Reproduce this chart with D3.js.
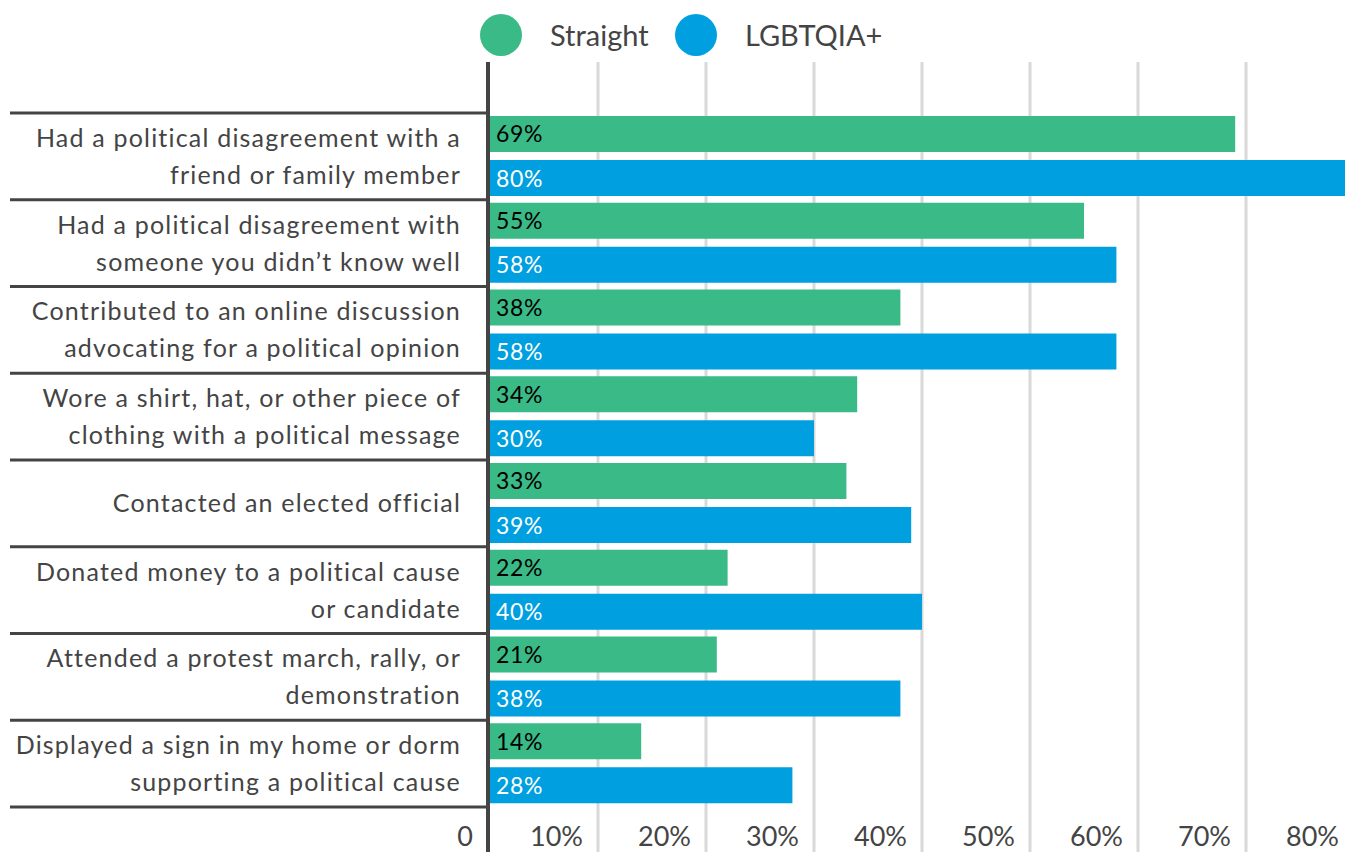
<!DOCTYPE html>
<html>
<head>
<meta charset="utf-8">
<script src="https://cdn.jsdelivr.net/npm/d3@7"></script>
<style>
  body { margin: 0; background: #fff; }
  text { font-family: Lato, "Open Sans", sans-serif; }
</style>
</head>
<body>
<div id="container"></div>
<script>
var categories = [
  ['Had a political disagreement with a', 'friend or family member'],
  ['Had a political disagreement with', 'someone you didn\u2019t know well'],
  ['Contributed to an online discussion', 'advocating for a political opinion'],
  ['Wore a shirt, hat, or other piece of', 'clothing with a political message'],
  ['Contacted an elected official'],
  ['Donated money to a political cause', 'or candidate'],
  ['Attended a protest march, rally, or', 'demonstration'],
  ['Displayed a sign in my home or dorm', 'supporting a political cause']
];
var seriesNames = ['Straight', 'LGBTQIA+'];
var straight = [69, 55, 38, 34, 33, 22, 21, 14];
var lgbtqia = [80, 58, 58, 30, 39, 40, 38, 28];
var tickValues = [0, 10, 20, 30, 40, 50, 60, 70, 80];
var tickLabels = ['0', '10%', '20%', '30%', '40%', '50%', '60%', '70%', '80%'];

var colors = { 'Straight': '#39ba87', 'LGBTQIA+': '#009fe0' };
var labelColors = { 'Straight': '#000', 'LGBTQIA+': '#fff' };

var svgWidth = 1345,
    svgHeight = 852,
    svg = d3.select('#container').append('svg').attr('width', svgWidth).attr('height', svgHeight);

var x = d3.scaleLinear().domain([0, 80]).range([490, 1354]);
var keys = categories.map(function(d, i) { return i; });
var y = d3.scaleBand().domain(keys).range([113, 807]);
var ySub = d3.scaleBand().domain(seriesNames).range([3, 83]).paddingInner(0.182);

var rows = keys.map(function(i) {
  return { i: i, label: categories[i], values: [
    { key: 'Straight', value: straight[i] },
    { key: 'LGBTQIA+', value: lgbtqia[i] }
  ]};
});

// grid lines
svg.append('g').selectAll('line')
  .data(tickValues.slice(1))
  .enter().append('line')
    .attr('x1', function(d) { return x(d); })
    .attr('x2', function(d) { return x(d); })
    .attr('y1', 62)
    .attr('y2', svgHeight)
    .attr('stroke', '#d9d9d9')
    .attr('stroke-width', 3);

// bars
var row = svg.append('g').selectAll('g')
  .data(rows)
  .enter().append('g')
    .attr('transform', function(d) { return 'translate(0,' + y(d.i) + ')'; });

row.selectAll('rect')
  .data(function(d) { return d.values; })
  .enter().append('rect')
    .attr('x', x(0))
    .attr('y', function(d) { return ySub(d.key); })
    .attr('width', function(d) { return x(d.value) - x(0); })
    .attr('height', ySub.bandwidth())
    .attr('fill', function(d) { return colors[d.key]; });

row.selectAll('text.val')
  .data(function(d) { return d.values; })
  .enter().append('text')
    .attr('class', 'val')
    .attr('x', x(0) + 6)
    .attr('y', function(d) { return ySub(d.key) + ySub.bandwidth() / 2 + 8.5; })
    .attr('fill', function(d) { return labelColors[d.key]; })
    .style('font-size', '23px')
    .style('letter-spacing', '0.6px')
    .text(function(d) { return d.value + '%'; });

// category labels
row.append('text')
  .attr('text-anchor', 'end')
  .attr('fill', '#444')
  .style('font-size', '25px')
  .style('letter-spacing', '1.2px')
  .each(function(d) {
    var t = d3.select(this);
    var n = d.label.length;
    d.label.forEach(function(line, j) {
      t.append('tspan')
        .attr('x', 461)
        .attr('y', y.bandwidth() / 2 + 9 + (j - (n - 1) / 2) * 37)
        .text(line);
    });
  });

// separators
svg.append('g').selectAll('line')
  .data(keys.concat([keys.length]))
  .enter().append('line')
    .attr('x1', 10)
    .attr('x2', 487)
    .attr('y1', function(d) { return d < keys.length ? y(d) : y.range()[1]; })
    .attr('y2', function(d) { return d < keys.length ? y(d) : y.range()[1]; })
    .attr('stroke', '#444')
    .attr('stroke-width', 3);

// vertical axis
svg.append('line')
  .attr('x1', 488).attr('x2', 488)
  .attr('y1', 62).attr('y2', svgHeight)
  .attr('stroke', '#444')
  .attr('stroke-width', 4);

// x tick labels
svg.append('g').selectAll('text')
  .data(tickValues)
  .enter().append('text')
    .attr('x', function(d) { return (d === 0 ? 488 : x(d)) - 15; })
    .attr('y', 846)
    .attr('text-anchor', 'end')
    .attr('fill', '#444')
    .style('font-size', '27px')
    .text(function(d, i) { return tickLabels[i]; });

// legend
var legend = svg.append('g').selectAll('g')
  .data(seriesNames)
  .enter().append('g')
    .attr('transform', function(d, i) { return 'translate(' + (501 + i * 195) + ',35)'; });
legend.append('circle')
  .attr('r', 21)
  .attr('fill', function(d) { return colors[d]; });
legend.append('text')
  .attr('x', 49)
  .attr('y', 11)
  .attr('fill', '#444')
  .style('font-size', '29px')
  .text(function(d) { return d; });
</script>
</body>
</html>
